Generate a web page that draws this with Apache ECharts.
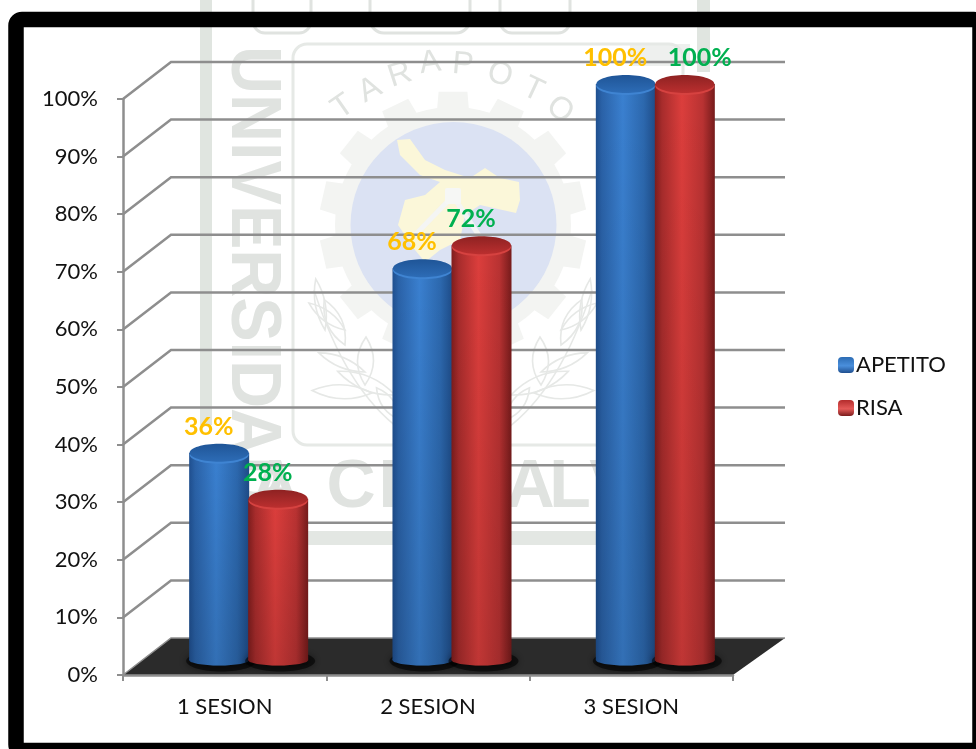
<!DOCTYPE html>
<html>
<head>
<meta charset="utf-8">
<style>html,body{margin:0;padding:0;background:#fff}#c{width:976px;height:749px}</style>
<script src="https://cdn.jsdelivr.net/npm/echarts@6/dist/echarts.min.js"></script>
</head>
<body>
<div id="c"></div>
<script>
// Session results: share of participants per indicator
const categories = ['1 SESION', '2 SESION', '3 SESION'];
const apetito = [36, 68, 100];
const risa = [28, 72, 100];
const wallTicks = [0, 10, 20, 30, 40, 50, 60, 70, 80, 90, 100];

const FONT = 'Lato, "Open Sans", sans-serif';
const AXIS_GREY = '#8e8e8e';
const DEPTH_X = 48, DEPTH_Y = 37;      // oblique offset of the back wall
const MARK = '#e0e3e0', MARK_SOFT = '#eef0ee';

const grad = (x2, y2, stops) => new echarts.graphic.LinearGradient(0, 0, x2, y2,
  stops.map((c, i) => ({ offset: c[0], color: c[1] })));

const palette = {
  blue: {
    body: [[0,'#1f4f8f'],[0.1,'#2a62a8'],[0.45,'#3a80d0'],[0.8,'#2c68ae'],[1,'#1e4c88']],
    top: [[0,'#1f5597'],[1,'#2d6cb6']], rim: '#3f84d2', label: '#FFC000',
    swatch: [[0,'#2c6cb4'],[0.55,'#4a8fdc'],[1,'#1f4f8f']]
  },
  red: {
    body: [[0,'#7f1d1d'],[0.12,'#a82c2c'],[0.45,'#dc3e3c'],[0.8,'#b93232'],[1,'#761b1b']],
    top: [[0,'#8e2222'],[1,'#bb2f2f']], rim: '#d64240', label: '#00B050',
    swatch: [[0,'#b32c2c'],[0.55,'#e45a58'],[1,'#7a1c1c']]
  }
};

// Back wall, side wall and floor, placed from the value axis
function renderWalls(params, api) {
  const cs = params.coordSys;
  const v = api.value(0);
  const y = api.coord([0, v])[1];
  const x0 = cs.x, x1 = cs.x + cs.width, xb = x0 + DEPTH_X, xe = x1 + 52, yb = y - DEPTH_Y;
  const children = [];
  if (v === 0) {
    children.push({ type: 'polygon', shape: { points: [[x0, y], [xb, yb], [xe, yb], [x1, y]] },
      style: { fill: '#2b2b2b' } });
  }
  children.push({ type: 'polyline', shape: { points: [[x0, y], [xb, yb], [xe, yb]] },
    style: { stroke: AXIS_GREY, lineWidth: v === 0 ? 1.5 : 2.5, fill: null } });
  return { type: 'group', children };
}

// One cylinder per value, shifted into the middle of the floor depth
function cylinderRenderer(colors, barOffset) {
  return function (params, api) {
    const band = api.size([1, 0])[0];
    const value = api.value(1);
    const top = api.coord([api.value(0), value]);
    const base = api.coord([api.value(0), 0]);
    const w = 60, rx = w / 2, ryTop = 9, ryBase = 5.5;
    const cx = top[0] + band * 0.118 + barOffset;
    const yt = top[1] - 15, yb = base[1] - 15;
    const labelDx = value === 100 && barOffset > 0 ? 15 : -10.5;
    const shade = grad(1, 0, colors.body);
    return {
      type: 'group',
      children: [
        { type: 'ellipse', shape: { cx: cx + 2, cy: yb + 1, rx: rx + 5, ry: ryBase + 5 },
          style: { fill: 'rgba(0,0,0,0.55)', shadowBlur: 7, shadowColor: 'rgba(0,0,0,0.8)' } },
        { type: 'ellipse', shape: { cx, cy: yb, rx, ry: ryBase }, style: { fill: shade } },
        { type: 'rect', shape: { x: cx - rx, y: yt, width: w, height: yb - yt }, style: { fill: shade } },
        { type: 'rect', shape: { x: cx - rx, y: yt, width: w, height: yb - yt + 5 },
          style: { fill: grad(0, 1, [[0,'rgba(0,0,0,0)'],[1,'rgba(0,0,0,0.13)']]) } },
        { type: 'ellipse', shape: { cx, cy: yt + 2, rx: rx - 0.5, ry: ryTop }, style: { fill: colors.rim } },
        { type: 'ellipse', shape: { cx, cy: yt, rx: rx - 0.5, ry: ryTop },
          style: { fill: grad(0, 1, colors.top) } },
        { type: 'text', x: cx + labelDx, y: yt - 26,
          style: { text: value + '%', fill: colors.label, font: 'bold 25px ' + FONT,
            align: 'center', verticalAlign: 'middle' } }
      ]
    };
  };
}

// University seal and lettering printed faintly behind the chart
function leaf(x, y, len, wid, angle, mirror) {
  const px = mirror ? 906 - x : x;
  return { type: 'path', x: px, y, rotation: mirror ? Math.PI - angle : angle,
    shape: { pathData: `M0 0 Q${len * 0.5} ${-wid} ${len} 0 Q${len * 0.5} ${wid} 0 0 Z` },
    style: { fill: 'none', stroke: '#e6e8e6', lineWidth: 1.6 } };
}
function gearPath(cx, cy, r0, r1, teeth) {
  let d = '';
  const step = Math.PI * 2 / teeth;
  for (let i = 0; i < teeth; i++) {
    const a = i * step;
    const pts = [[a, r0], [a + step * 0.2, r0], [a + step * 0.26, r1], [a + step * 0.74, r1], [a + step * 0.8, r0]];
    pts.forEach((p, k) => {
      d += (i === 0 && k === 0 ? 'M' : 'L') + (cx + p[1] * Math.cos(p[0])).toFixed(1) + ' ' + (cy + p[1] * Math.sin(p[0])).toFixed(1) + ' ';
    });
  }
  return d + 'Z';
}
function renderSeal() {
  const seal = [];
  const bar = (x, y, width, height, fill) => ({ type: 'rect', shape: { x, y, width, height }, style: { fill } });
  seal.push(bar(200, 0, 12, 425, '#e0e5e0'));
  seal.push(bar(697, 0, 13, 72, '#e0e5e0'));
  seal.push(bar(630, 44, 60, 22, MARK_SOFT));
  seal.push({ type: 'rect', shape: { x: 293, y: 44, width: 390, height: 401, r: 14 },
    style: { fill: 'none', stroke: '#e6e9e6', lineWidth: 3 } });
  seal.push({ type: 'rect', shape: { x: 253, y: -30, width: 58, height: 63, r: 12 },
    style: { fill: 'none', stroke: MARK, lineWidth: 3 } });
  seal.push({ type: 'rect', shape: { x: 370, y: -30, width: 100, height: 63, r: 14 },
    style: { fill: 'none', stroke: MARK, lineWidth: 3 } });
  seal.push({ type: 'rect', shape: { x: 500, y: -30, width: 70, height: 63, r: 12 },
    style: { fill: 'none', stroke: MARK, lineWidth: 3 } });
  seal.push({ type: 'path', shape: { pathData: gearPath(453, 225, 118, 134, 14) }, style: { fill: '#f3f4f2' } });
  seal.push({ type: 'circle', shape: { cx: 453.5, cy: 225, r: 103 }, style: { fill: '#dbe2f3' } });
  seal.push({ type: 'polygon', shape: { points: [[397,140],[410,139],[425,160],[445,170],[470,178],[485,168],[500,178],[519,182],[520,200],[516,213],[480,205],[465,215],[460,240],[440,250],[425,262],[415,250],[398,225],[405,200],[425,195],[440,182],[420,175],[400,155]] },
    style: { fill: '#fbf7d9' } });
  seal.push({ type: 'polyline', shape: { points: [[415,235],[453,196],[482,240]] }, style: { fill: 'none', stroke: '#f4f5f4', lineWidth: 5 } });
  seal.push({ type: 'rect', shape: { x: 445, y: 188, width: 16, height: 16, r: 2 }, style: { fill: '#f6f7f5' } });
  [['T',343,107,35],['A',370,90,28],['R',400,75,18],['A',430,63,8],['P',463,65,-5],['O',500,75,-15],['T',533,90,-25],['O',560,110,-35]]
    .forEach(l => seal.push({ type: 'text', x: l[1], y: l[2], rotation: l[3] * Math.PI / 180,
      style: { text: l[0], fill: MARK, font: '32px "Liberation Sans", sans-serif', align: 'center', verticalAlign: 'middle' } }));
  seal.push({ type: 'text', x: 251, y: 46, rotation: -Math.PI / 2, scaleX: 0.95, scaleY: 1,
    style: { text: 'UNIVERSIDAD', fill: MARK, font: 'bold 70px "Liberation Sans", sans-serif', align: 'left', verticalAlign: 'middle' } });
  [['A',275],['C',351],['I',388],['O',430],['N',474],['A',530],['L',570],['V',612]]
    .forEach(l => seal.push({ type: 'text', x: l[1], y: 488,
      style: { text: l[0], fill: MARK, font: 'bold 68px "Liberation Sans", sans-serif', align: 'center', verticalAlign: 'middle' } }));
  seal.push(bar(300, 531, 296, 14, '#e3e7e3'));
  [false, true].forEach(m => {
    seal.push(leaf(325, 330, 52, 10, 1.75, m), leaf(345, 345, 50, 15, 2.0, m), leaf(345, 330, 45, 10, 2.5, m),
      leaf(365, 372, 50, 10, 2.75, m), leaf(365, 385, 48, 16, 1.55, m), leaf(372, 393, 60, 14, 3.1, m),
      leaf(395, 395, 62, 14, 2.75, m), leaf(400, 420, 40, 12, 2.2, m));
    seal.push({ type: 'path', shape: { pathData: m ? 'M505 430 Q560 390 592 290' : 'M401 430 Q346 390 314 290' },
      style: { fill: 'none', stroke: '#e6e8e6', lineWidth: 1.5 } });
  });
  // Black rounded frame around the plot
  seal.push({ type: 'rect', shape: { x: 16, y: 19.5, width: 964, height: 731, r: 6 },
    style: { fill: 'none', stroke: '#000', lineWidth: 15.5 } });
  return { type: 'group', children: seal };
}

const chart = echarts.init(document.getElementById('c'), null, { renderer: 'canvas' });
chart.setOption({
  animation: false,
  backgroundColor: '#fff',
  grid: { left: 123, top: 99, width: 610, height: 576 },
  xAxis: {
    type: 'category', data: categories, z: 6,
    axisLine: { lineStyle: { color: AXIS_GREY, width: 2.5 } },
    axisTick: { show: true, length: 6, lineStyle: { color: AXIS_GREY, width: 2 } },
    axisLabel: { color: '#111', fontSize: 22, fontFamily: FONT, margin: 21 }
  },
  yAxis: {
    type: 'value', min: 0, max: 100, interval: 10, z: 6,
    splitLine: { show: false },
    axisLine: { show: true, lineStyle: { color: AXIS_GREY, width: 2.5 } },
    axisTick: { show: true, length: 6, lineStyle: { color: AXIS_GREY, width: 2 } },
    axisLabel: { color: '#111', fontSize: 22, fontFamily: FONT, margin: 25, formatter: '{value}%' }
  },
  legend: {
    left: 833, top: 349, orient: 'vertical', itemGap: 21, itemWidth: 16, itemHeight: 16,
    textStyle: { color: '#111', fontSize: 22, fontFamily: FONT, padding: [0, 0, 0, -3] },
    data: ['APETITO', 'RISA']
  },
  series: [
    { type: 'custom', name: 'seal', z: 0, silent: true, coordinateSystem: 'none', data: [[0]], renderItem: renderSeal },
    { type: 'custom', name: 'walls', z: 2, silent: true, data: wallTicks.map(v => [0, v]),
      encode: { y: 1 }, renderItem: (p, api) => renderWalls(p, { coord: api.coord, value: () => api.value(1) }) },
    { type: 'custom', name: 'APETITO', z: 3, silent: true,
      itemStyle: { color: grad(0, 1, palette.blue.swatch) },
      data: apetito.map((v, i) => [i, v]), encode: { x: 0, y: 1 },
      renderItem: cylinderRenderer(palette.blue, -29.5) },
    { type: 'custom', name: 'RISA', z: 4, silent: true,
      itemStyle: { color: grad(0, 1, palette.red.swatch) },
      data: risa.map((v, i) => [i, v]), encode: { x: 0, y: 1 },
      renderItem: cylinderRenderer(palette.red, 29.5) }
  ]
});
</script>
</body>
</html>
